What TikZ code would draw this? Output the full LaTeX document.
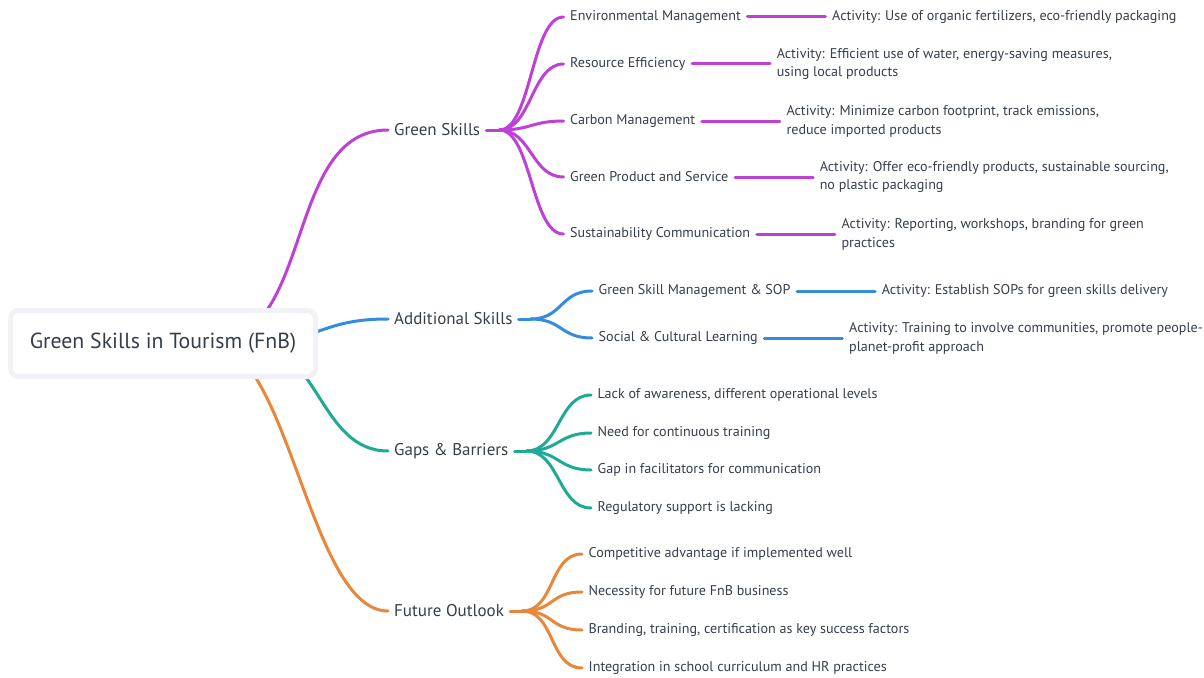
\documentclass[tikz,border=0pt]{standalone}
\usepackage{fontspec}
\setmainfont{PT Sans}
\usetikzlibrary{positioning}

\definecolor{ink}{HTML}{363E4B}
\definecolor{gsviolet}{HTML}{BF40D6}
\definecolor{asblue}{HTML}{358CDE}
\definecolor{gbteal}{HTML}{1FAA96}
\definecolor{fooran}{HTML}{E8873A}
\definecolor{rootedge}{HTML}{F0F2F5}

\tikzset{
  root/.style={draw=rootedge, line width=5pt, fill=white, rounded corners=8pt,
    minimum width=305pt, minimum height=66pt, text=ink,
    font=\fontsize{21.8}{25}\selectfont},
  branch/.style={anchor=west, inner xsep=6pt, inner ysep=2pt, text=ink,
    font=\fontsize{17}{20}\selectfont},
  leaf/.style={anchor=west, inner xsep=6.5pt, inner ysep=2pt, text=ink,
    font=\fontsize{14.1}{18.8}\selectfont},
  act/.style={leaf, align=left, right=78pt of #1},
  link/.style={line width=3pt, line cap=round},
}

\begin{document}
\begin{tikzpicture}[x=1pt,y=-1pt]
\useasboundingbox (0,0) rectangle (1204,677);

% main branches
\node[branch] (gsk) at (388,130) {Green Skills};
\node[branch] (adsk) at (388,319) {Additional Skills};
\node[branch] (gaps) at (388,451) {Gaps \& Barriers};
\node[branch] (outl) at (388,611) {Future Outlook};

% links from the centre, the box is drawn over them afterwards
\coordinate (hub-a) at (210,343);
\coordinate (hub-b) at (250,343);
\draw[link,gsviolet] (hub-a) .. controls +(105,0) and +(-105,0) .. (gsk.west);
\draw[link,asblue] (hub-b) .. controls +(69,0) and +(-69,0) .. (adsk.west);
\draw[link,gbteal] (hub-b) .. controls +(69,0) and +(-69,0) .. (gaps.west);
\draw[link,fooran] (hub-a) .. controls +(79,0) and +(-79,0) .. (outl.west);

\node[root] (root) at (163,343.5) {Green Skills in Tourism (FnB)};

% green skills
\node[leaf] (envm) at (563.5,17) {Environmental Management};
\node[leaf] (resf) at (563.5,64) {Resource Efficiency};
\node[leaf] (carb) at (563.5,121) {Carbon Management};
\node[leaf] (gprs) at (563.5,177) {Green Product and Service};
\node[leaf] (scom) at (563.5,234) {Sustainability Communication};

\node[act=envm] (envm-a) {Activity: Use of organic fertilizers, eco-friendly packaging};
\node[act=resf] (resf-a) {Activity: Efficient use of water, energy-saving measures,\\using local products};
\node[act=carb] (carb-a) {Activity: Minimize carbon footprint, track emissions,\\reduce imported products};
\node[act=gprs] (gprs-a) {Activity: Offer eco-friendly products, sustainable sourcing,\\no plastic packaging};
\node[act=scom] (scom-a) {Activity: Reporting, workshops, branding for green\\practices};

\draw[link,gsviolet] (gsk.east) -- ++(13,0) coordinate (gsk-h);
\foreach \n in {envm,resf,carb,gprs,scom}{
  \draw[link,gsviolet] (gsk-h) .. controls +(32,0) and +(-32,0) .. (\n.west);
  \draw[link,gsviolet] (\n.east) -- (\n-a.west);
}

% additional skills
\node[leaf] (gsmg) at (592,291) {Green Skill Management \& SOP};
\node[leaf] (socl) at (592,338) {Social \& Cultural Learning};
\node[act=gsmg] (gsmg-a) {Activity: Establish SOPs for green skills delivery};
\node[act=socl] (socl-a) {Activity: Training to involve communities, promote people-\\planet-profit approach};

\draw[link,asblue] (adsk.east) -- ++(12,0) coordinate (adsk-h);
\foreach \n in {gsmg,socl}{
  \draw[link,asblue] (adsk-h) .. controls +(32,0) and +(-32,0) .. (\n.west);
  \draw[link,asblue] (\n.east) -- (\n-a.west);
}

% gaps and barriers
\draw[link,gbteal] (gaps.east) -- ++(12,0) coordinate (gaps-h);
\foreach \t/\y [count=\i] in {{Lack of awareness, different operational levels}/395,
    Need for continuous training/433,
    Gap in facilitators for communication/470,
    Regulatory support is lacking/508}{
  \node[leaf] (gap\i) at (591,\y) {\t};
  \draw[link,gbteal] (gaps-h) .. controls +(33,0) and +(-33,0) .. (gap\i.west);
}

% future outlook
\draw[link,fooran] (outl.east) -- ++(12,0) coordinate (outl-h);
\foreach \t/\y [count=\i] in {Competitive advantage if implemented well/554,
    Necessity for future FnB business/592,
    {Branding, training, certification as key success factors}/630,
    Integration in school curriculum and HR practices/668}{
  \node[leaf] (out\i) at (582,\y) {\t};
  \draw[link,fooran] (outl-h) .. controls +(33,0) and +(-33,0) .. (out\i.west);
}

\end{tikzpicture}
\end{document}
